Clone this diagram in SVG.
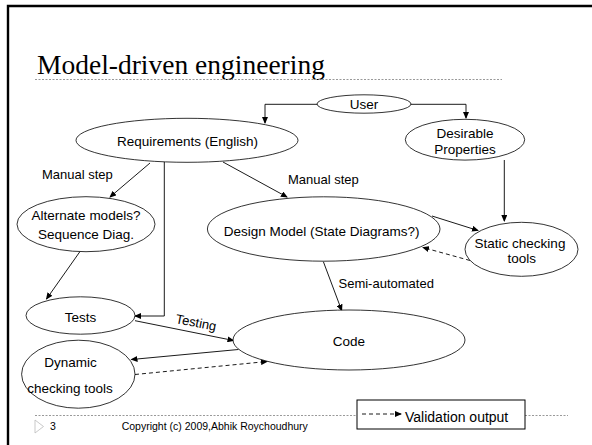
<svg xmlns="http://www.w3.org/2000/svg" width="592" height="445" viewBox="0 0 592 445">
<defs>
<marker id="ah" markerWidth="7" markerHeight="6" refX="6" refY="3" orient="auto" markerUnits="userSpaceOnUse">
<path d="M0,0 L7,3 L0,6 Z" fill="#000"/>
</marker>
<style>
.node ellipse{fill:#fff;stroke:#000;stroke-width:0.8}
.lbl{font-family:"Liberation Sans",Arial,sans-serif;font-size:13.5px;fill:#000;text-anchor:middle}
.elbl{font-family:"Liberation Sans",Arial,sans-serif;font-size:13px;fill:#000}
.edge{fill:none;stroke:#000;stroke-width:0.9;marker-end:url(#ah)}
.dash{stroke-dasharray:4,3}
.dot{stroke:#999;stroke-width:1;stroke-dasharray:2,1.5;fill:none}
</style>
</defs>
<rect width="592" height="445" fill="#fff"/>
<path d="M8,445 L8,6 L592,6" fill="none" stroke="#000" stroke-width="2.4"/>
<text x="37" y="74" font-family="'Liberation Serif','Times New Roman',serif" font-size="27.5" fill="#000">Model-driven engineering</text>
<line class="dot" x1="35" y1="79.5" x2="502" y2="79.5"/>
<line class="dot" x1="35" y1="415.5" x2="568" y2="415.5"/>

<g id="connectors">
<path class="edge" d="M318,104.3 L265,104.3 L265,123"/>
<path class="edge" d="M410.5,104.3 L466,104.3 L466,118"/>
<path class="edge" d="M504.3,160 L504.3,221"/>
<path class="edge" d="M223,162 L287,197"/>
<path class="edge" d="M150,163 L110,197"/>
<path class="edge" d="M164.3,162 L164.3,316 L135,316"/>
<path class="edge" d="M80,251.5 L46.5,299"/>
<path class="edge" d="M432,216 L478,230.5"/>
<path class="edge dash" d="M470,260.5 L423,247.5"/>
<path class="edge" d="M323.3,261.5 L341.7,310.5"/>
<path class="edge" d="M135,320.7 L233.5,340.5"/>
<path class="edge" d="M238.3,349.5 L131.5,359.5"/>
<path class="edge dash" d="M135,374.5 L267,361.5"/>
<text class="elbl" x="42" y="179">Manual step</text>
<text class="elbl" x="288" y="183.5">Manual step</text>
<text class="elbl" x="338.5" y="288">Semi-automated</text>
<text class="elbl" x="196" y="327" text-anchor="middle" transform="rotate(11.1 196 323)">Testing</text>
</g>

<g id="user" class="node"><ellipse cx="364" cy="104" rx="47" ry="9.2"/><text class="lbl" x="364" y="109">User</text></g>
<g id="requirements" class="node"><ellipse cx="187" cy="140.3" rx="111" ry="22"/><text class="lbl" x="187.5" y="146">Requirements (English)</text></g>
<g id="desirable" class="node"><ellipse cx="465" cy="139.7" rx="59.7" ry="20.4"/><text class="lbl" x="465" y="138">Desirable</text><text class="lbl" x="465" y="154">Properties</text></g>
<g id="alternate" class="node"><ellipse cx="86" cy="224.2" rx="69" ry="27.5"/><text class="lbl" x="86" y="220">Alternate models?</text><text class="lbl" x="86" y="239">Sequence Diag.</text></g>
<g id="design" class="node"><ellipse cx="323.7" cy="229" rx="116.3" ry="32.2"/><text class="lbl" x="321.7" y="235.5">Design Model (State Diagrams?)</text></g>
<g id="static" class="node"><ellipse cx="521.5" cy="249.3" rx="56.5" ry="27"/><text class="lbl" x="520" y="247.5">Static checking</text><text class="lbl" x="521.7" y="263">tools</text></g>
<g id="tests" class="node"><ellipse cx="80.5" cy="315.5" rx="54.5" ry="18.7"/><text class="lbl" x="80.5" y="321.5">Tests</text></g>
<g id="code" class="node"><ellipse cx="349" cy="340" rx="116" ry="30"/><text class="lbl" x="349" y="346">Code</text></g>
<g id="dynamic" class="node"><ellipse cx="78.3" cy="374.2" rx="56.7" ry="34"/><text class="lbl" x="70.5" y="366.7">Dynamic</text><text class="lbl" x="70" y="392.7">checking tools</text></g>

<g id="legend">
<rect x="357" y="400" width="168" height="29" fill="#fff" stroke="#000" stroke-width="1"/>
<path class="edge dash" d="M362,414 L401,414"/>
<text x="405" y="421.7" font-family="'Liberation Sans',Arial,sans-serif" font-size="14" fill="#000">Validation output</text>
</g>
<g id="footer">
<path d="M35,420 L43.5,426.5 L35,433 Z" fill="none" stroke="#bbb" stroke-width="0.8"/>
<text x="50" y="430" font-family="'Liberation Sans',Arial,sans-serif" font-size="10.5" fill="#000">3</text>
<text x="121.7" y="430" font-family="'Liberation Sans',Arial,sans-serif" font-size="10.5" fill="#000">Copyright (c) 2009,Abhik Roychoudhury</text>
</g>
</svg>
